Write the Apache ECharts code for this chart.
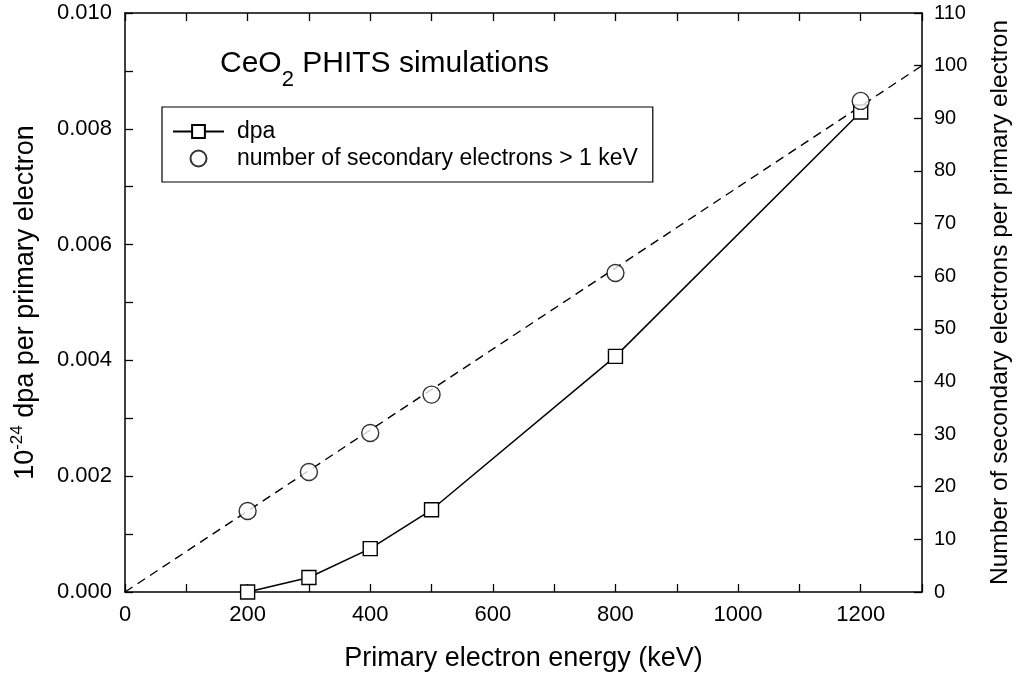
<!DOCTYPE html>
<html>
<head>
<meta charset="utf-8">
<script src="https://cdn.jsdelivr.net/npm/echarts@6/dist/echarts.min.js"></script>
<style>
  html, body { margin: 0; padding: 0; background: #fff; }
  #chart { width: 1021px; height: 677px; }
</style>
</head>
<body>
<div id="chart"></div>
<script>
// primary electron energy (keV)
const energy = [200, 300, 400, 500, 800, 1200];
// 10^-24 dpa per primary electron
const dpa = [0.0000, 0.00025, 0.00075, 0.00142, 0.00407, 0.00829];
// secondary electrons > 1 keV per primary electron
const secondary = [15.4, 22.8, 30.2, 37.5, 60.6, 93.3];
// dashed fit line end points (energy, electrons)
const fitX = [0, 1300];
const fitY = [0, 100];
// tick labels
const xLabels = [0, 200, 400, 600, 800, 1000, 1200];
const yLeftLabels = ['0.000', '0.002', '0.004', '0.006', '0.008', '0.010'];

const FONT = 'Liberation Sans';
const chart = echarts.init(document.getElementById('chart'));

const tickIn = { show: true, inside: true, length: 8, lineStyle: { color: '#000', width: 1.3 } };
const axisLineBlack = { show: true, onZero: false, lineStyle: { color: '#000', width: 1.5 } };

const option = {
  animation: false,
  backgroundColor: '#fff',
  textStyle: { fontFamily: FONT, color: '#000' },
  grid: { left: 125, top: 13, right: 84, bottom: 78 },
  title: {
    left: 215,
    top: 44,
    text: '{a|CeO}{b|2}{a| PHITS simulations}',
    textStyle: {
      fontWeight: 'normal',
      rich: {
        a: { fontFamily: FONT, fontSize: 30, fontWeight: 'normal', lineHeight: 34, color: '#000', verticalAlign: 'top' },
        b: { fontFamily: FONT, fontSize: 22, fontWeight: 'normal', lineHeight: 62, color: '#000', verticalAlign: 'middle' }
      }
    }
  },
  legend: {
    data: ['dpa', 'number of secondary electrons > 1 keV'],
    orient: 'vertical',
    left: 162,
    top: 107,
    padding: [12, 15, 11, 10],
    itemWidth: 51,
    itemHeight: 16,
    itemGap: 2,
    borderColor: '#000',
    borderWidth: 1.2,
    textStyle: { fontFamily: FONT, fontSize: 23, lineHeight: 25, color: '#000', padding: [0, 0, 0, 8] }
  },
  xAxis: [
    {
      type: 'value',
      min: 0, max: 1300, interval: 100,
      name: 'Primary electron energy (keV)',
      nameLocation: 'middle',
      nameGap: 53,
      nameTextStyle: { fontFamily: FONT, fontSize: 27, color: '#000' },
      axisLine: axisLineBlack,
      axisTick: tickIn,
      splitLine: { show: false },
      axisLabel: {
        fontFamily: FONT, fontSize: 22, color: '#000', margin: 12,
        formatter: v => (xLabels.indexOf(v) >= 0 ? String(v) : '')
      }
    },
    {
      type: 'value',
      position: 'top',
      min: 0, max: 1300, interval: 100,
      axisLine: axisLineBlack,
      axisTick: tickIn,
      axisLabel: { show: false },
      splitLine: { show: false }
    }
  ],
  yAxis: [
    {
      type: 'value',
      min: 0, max: 0.010, interval: 0.001,
      name: '{a|10}{s|-24}{a| dpa per primary electron}',
      nameLocation: 'middle',
      nameRotate: 90,
      nameGap: 86,
      nameTextStyle: {
        rich: {
          a: { fontFamily: FONT, fontSize: 27, lineHeight: 30, color: '#000', verticalAlign: 'bottom' },
          s: { fontFamily: FONT, fontSize: 17, lineHeight: 17, color: '#000', verticalAlign: 'top' }
        }
      },
      axisLine: axisLineBlack,
      axisTick: tickIn,
      splitLine: { show: false },
      axisLabel: {
        fontFamily: FONT, fontSize: 22, color: '#000', margin: 13,
        formatter: v => {
          const s = v.toFixed(3);
          return yLeftLabels.indexOf(s) >= 0 ? s : '';
        }
      }
    },
    {
      type: 'value',
      position: 'right',
      min: 0, max: 110, interval: 10,
      name: 'Number of secondary electrons per primary electron',
      nameLocation: 'middle',
      nameRotate: 90,
      nameGap: 66,
      nameTextStyle: { fontFamily: FONT, fontSize: 24.5, color: '#000' },
      axisLine: axisLineBlack,
      axisTick: tickIn,
      splitLine: { show: false },
      axisLabel: { fontFamily: FONT, fontSize: 20, color: '#000', margin: 12 }
    }
  ],
  series: [
    {
      name: 'fit',
      type: 'line',
      yAxisIndex: 1,
      data: fitX.map((x, i) => [x, fitY[i]]),
      symbol: 'none',
      silent: true,
      z: 1,
      lineStyle: { color: '#000', width: 1.4, type: [9, 6] }
    },
    {
      name: 'dpa',
      type: 'line',
      data: energy.map((e, i) => [e, dpa[i]]),
      symbol: 'rect',
      symbolSize: 14,
      z: 2,
      lineStyle: { color: '#000', width: 1.5 },
      itemStyle: { color: '#fff', borderColor: '#000', borderWidth: 1.4 }
    },
    {
      name: 'number of secondary electrons > 1 keV',
      type: 'scatter',
      yAxisIndex: 1,
      data: energy.map((e, i) => [e, secondary[i]]),
      symbol: 'circle',
      symbolSize: 17,
      z: 3,
      itemStyle: { color: '#fff', borderColor: '#000', borderWidth: 1.4 }
    }
  ]
};

chart.setOption(option);
</script>
</body>
</html>
